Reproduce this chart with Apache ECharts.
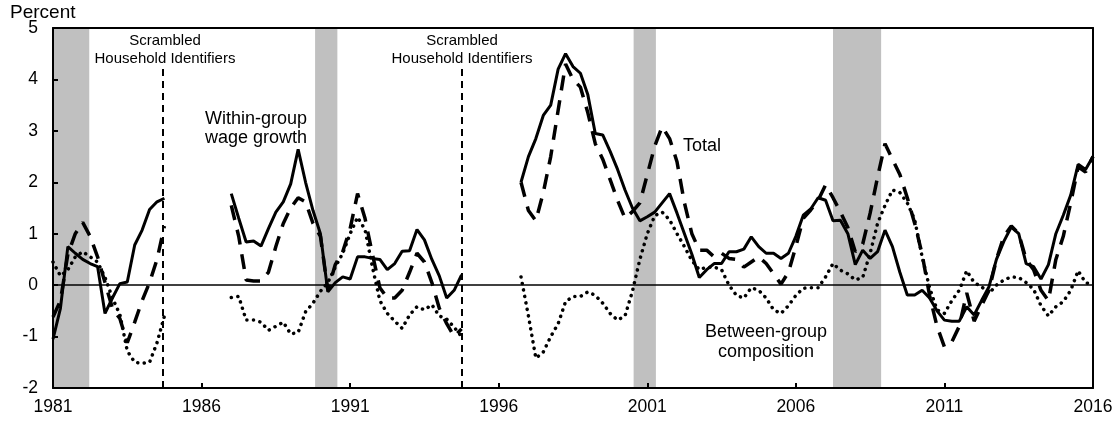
<!DOCTYPE html>
<html>
<head>
<meta charset="utf-8">
<script src="https://cdn.jsdelivr.net/npm/echarts@6/dist/echarts.min.js"></script>
<style>
  html, body { margin: 0; padding: 0; background: #fff; }
  #chart { width: 1118px; height: 421px; }
</style>
</head>
<body>
<div id="chart"></div>
<script>
// quarterly observations, 1981Q1 .. 2016Q1 (null = no matched data)
const startYear = 1981;
const within = [
  -1.05, -0.45, 0.75, 0.62, 0.5, 0.42, 0.36, -0.55, -0.25, 0.03, 0.06, 0.78, 1.07, 1.47, 1.62, 1.69,
  null, null, null, null, null, null, null, null,
  1.78, 1.3, 0.84, 0.86, 0.76, 1.1, 1.42, 1.62, 1.97, 2.64, 2.0, 1.45, 1.0, -0.13, 0.05, 0.16,
  0.12, 0.55, 0.55, 0.52, 0.5, 0.3, 0.42, 0.66, 0.67, 1.08, 0.88, 0.5, 0.18, -0.25, -0.1, 0.2,
  null, null, null, null, null, null, null,
  2.0, 2.5, 2.85, 3.3, 3.5, 4.2, 4.5, 4.25, 4.12, 3.7, 2.95, 2.92, 2.6, 2.25, 1.85, 1.5, 1.25,
  1.33, 1.42, 1.6, 1.78, 1.4, 1.0, 0.6, 0.15, 0.3, 0.42, 0.42, 0.65, 0.65, 0.7, 0.94, 0.75,
  0.62, 0.62, 0.52, 0.62, 0.95, 1.36, 1.48, 1.7, 1.65, 1.25, 1.26, 1.0, 0.4, 0.68, 0.52, 0.65,
  1.07, 0.75, 0.25, -0.19, -0.19, -0.1, -0.25, -0.5, -0.68, -0.7, -0.7, -0.42, -0.58, -0.3, -0.03, 0.5,
  0.85, 1.13, 1.0, 0.42, 0.36, 0.12, 0.4, 1.0, 1.36, 1.75, 2.35, 2.25, 2.5
];
const total = [
  -0.62, -0.3, 0.6, 1.0, 1.22, 0.95, 0.55, 0.05, -0.45, -0.65, -1.12, -0.72, -0.3, 0.05, 0.5, 1.15,
  null, null, null, null, null, null, null, null,
  1.55, 0.95, 0.1, 0.08, 0.08, 0.25, 0.75, 1.2, 1.5, 1.7, 1.62, 1.2, 0.95, -0.1, 0.4, 0.65,
  1.1, 1.78, 1.3, 0.6, -0.05, -0.25, -0.25, -0.1, 0.25, 0.62, 0.45, 0.05, -0.45, -0.75, -1.0, -0.85,
  null, null, null, null, null, null, null,
  2.0, 1.45, 1.25, 1.8, 2.5, 3.4, 4.3, 4.0, 3.85, 3.35, 2.75, 2.45, 2.05, 1.65, 1.3, 1.43, 1.6,
  2.15, 2.7, 3.08, 2.85, 2.4, 1.6, 1.0, 0.68, 0.68, 0.55, 0.62, 0.52, 0.5, 0.35, 0.45, 0.55,
  0.42, 0.22, 0.02, 0.25, 0.75, 1.3, 1.46, 1.65, 1.95, 1.7, 1.42, 1.12, 0.65, 0.8, 1.4, 2.1,
  2.75, 2.45, 2.15, 1.7, 1.2, 0.6, -0.2, -0.8, -1.2, -1.1, -0.8, -0.15, -0.7, -0.4, -0.1, 0.5,
  0.95, 1.15, 1.0, 0.5, 0.3, -0.1, -0.3, 0.5, 0.95, 1.6, 2.3, 2.2, 2.5
];
const between = [
  0.45, 0.18, 0.3, 0.55, 0.65, 0.55, 0.45, 0.15, -0.25, -0.57, -1.28, -1.5, -1.52, -1.5, -1.12, -0.6,
  null, null, null, null, null, null, null, null,
  -0.24, -0.22, -0.68, -0.68, -0.72, -0.88, -0.8, -0.72, -0.95, -0.92, -0.52, -0.35, -0.12, 0.05, 0.35, 0.62,
  1.0, 1.32, 1.08, 0.35, -0.3, -0.55, -0.7, -0.84, -0.58, -0.42, -0.48, -0.38, -0.6, -0.66, -0.82, -1.0,
  null, null, null, null, null, null, null,
  0.16, -0.6, -1.42, -1.3, -1.0, -0.75, -0.32, -0.22, -0.22, -0.13, -0.2, -0.35, -0.55, -0.68, -0.6, -0.12, 0.5,
  1.0, 1.35, 1.42, 1.27, 1.0, 0.75, 0.48, 0.3, 0.35, 0.35, 0.3, 0.0, -0.2, -0.25, -0.05, -0.1,
  -0.25, -0.48, -0.55, -0.4, -0.2, -0.06, -0.05, -0.05, 0.16, 0.42, 0.29, 0.22, 0.1, 0.15, 0.62, 1.2,
  1.55, 1.85, 1.8, 1.6, 1.27, 0.55, -0.05, -0.48, -0.55, -0.3, -0.1, 0.28, 0.05, -0.03, -0.16, 0.0,
  0.1, 0.16, 0.15, 0.05, -0.08, -0.4, -0.6, -0.42, -0.32, -0.1, 0.28, 0.05, 0.0
];
// shaded recession periods as plotted on the chart's time scale
const recessions = [[1981.0, 1982.22], [1989.82, 1990.57], [2000.54, 2001.29], [2007.25, 2008.87]];
// breaks in household identifiers
const scrambleDates = [1984.71, 1994.74];
const scrambleTop = 4.22;

const FONT = "'Liberation Sans', Arial, sans-serif";

function pairs(values) {
  return values.map((v, i) => [startYear + i * 0.25, v]);
}

const chart = echarts.init(document.getElementById("chart"));

const axisLine = { show: true, onZero: false, lineStyle: { color: "#000", width: 2 } };

const option = {
  animation: false,
  backgroundColor: "#fff",
  textStyle: { fontFamily: FONT },
  grid: { left: 53, right: 25, top: 28, bottom: 33 },
  xAxis: [
    {
      type: "value", min: 1981, max: 2016, interval: 5, z: 10,
      axisLine: axisLine,
      axisTick: { show: true, inside: true, length: 5, lineStyle: { color: "#000", width: 2 } },
      axisLabel: { color: "#000", fontSize: 17.5, margin: 10, fontFamily: FONT, formatter: v => String(v) },
      splitLine: { show: false }
    },
    {
      type: "value", min: 1981, max: 2016, position: "top", z: 10,
      axisLine: axisLine, axisTick: { show: false }, axisLabel: { show: false },
      splitLine: { show: false }
    }
  ],
  yAxis: [
    {
      type: "value", min: -2, max: 5, interval: 1, z: 10,
      axisLine: axisLine,
      axisTick: { show: true, inside: true, length: 5, lineStyle: { color: "#000", width: 2 } },
      axisLabel: { color: "#000", fontSize: 17.5, margin: 15, fontFamily: FONT },
      splitLine: { show: false }
    },
    {
      type: "value", min: -2, max: 5, position: "right", z: 10,
      axisLine: axisLine, axisTick: { show: false }, axisLabel: { show: false },
      splitLine: { show: false }
    }
  ],
  series: [
    {
      name: "recessions", type: "line", data: [], z: 1, silent: true,
      markArea: {
        silent: true,
        itemStyle: { color: "#c0c0c0", opacity: 1 },
        data: recessions.map(r => [{ xAxis: r[0] }, { xAxis: r[1] }])
      }
    },
    {
      name: "Between-group composition", type: "line", data: pairs(between), z: 3,
      showSymbol: false, connectNulls: false,
      lineStyle: { color: "#000", width: 3.5, type: [0.1, 6.5], cap: "round" },
      markLine: {
        silent: true, symbol: "none", label: { show: false },
        lineStyle: { color: "#000", width: 1.5, type: "solid" },
        data: [{ yAxis: 0 }]
      }
    },
    {
      name: "Total", type: "line", data: pairs(total), z: 4,
      showSymbol: false, connectNulls: false,
      lineStyle: { color: "#000", width: 3.5, type: [15, 10], cap: "butt" },
      markLine: {
        silent: true, symbol: "none", label: { show: false },
        lineStyle: { color: "#000", width: 2, type: [7, 5] },
        data: scrambleDates.map(d => [{ coord: [d, -2] }, { coord: [d, scrambleTop] }])
      }
    },
    {
      name: "Within-group wage growth", type: "line", data: pairs(within), z: 5,
      showSymbol: false, connectNulls: false,
      lineStyle: { color: "#000", width: 3 }
    }
  ],
  graphic: [
    { type: "text", left: 10, top: 3, style: { text: "Percent", font: "19px " + FONT, fill: "#000" } },
    { type: "text", x: 165, y: 50, style: { text: "Scrambled\nHousehold Identifiers", font: "15px " + FONT, fill: "#000", align: "center", verticalAlign: "middle", lineHeight: 18 } },
    { type: "text", x: 462, y: 50, style: { text: "Scrambled\nHousehold Identifiers", font: "15px " + FONT, fill: "#000", align: "center", verticalAlign: "middle", lineHeight: 18 } },
    { type: "text", x: 256, y: 129, style: { text: "Within-group\nwage growth", font: "18px " + FONT, fill: "#000", align: "center", verticalAlign: "middle", lineHeight: 19 } },
    { type: "text", x: 683, y: 146, style: { text: "Total", font: "18px " + FONT, fill: "#000", align: "left", verticalAlign: "middle" } },
    { type: "text", x: 766, y: 342, style: { text: "Between-group\ncomposition", font: "18px " + FONT, fill: "#000", align: "center", verticalAlign: "middle", lineHeight: 20 } }
  ]
};

chart.setOption(option);
</script>
</body>
</html>
